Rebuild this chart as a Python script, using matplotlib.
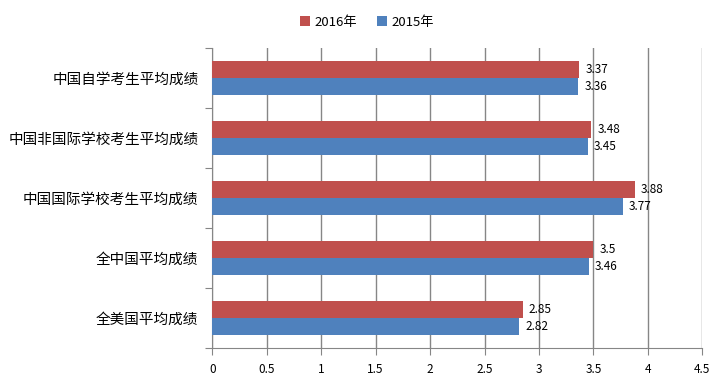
import numpy as np
import matplotlib
matplotlib.use('Agg')
from matplotlib import pyplot as plt

plt.rcParams['font.family'] = ['Noto Sans CJK SC', 'DejaVu Sans']

categories = ['中国自学考生平均成绩', '中国非国际学校考生平均成绩', '中国国际学校考生平均成绩',
              '全中国平均成绩', '全美国平均成绩']
score_2016 = [3.37, 3.48, 3.88, 3.5, 2.85]
score_2015 = [3.36, 3.45, 3.77, 3.46, 2.82]
series_names = ['2016年', '2015年']
xticks = [0, 0.5, 1, 1.5, 2, 2.5, 3, 3.5, 4, 4.5]

red = '#C0504D'
blue = '#4F81BD'
grid_c = '#868686'

fig = plt.figure(figsize=(7.26, 3.81), dpi=100)
ax = fig.add_axes([0.2924, 0.087, 0.675, 0.787])

n = len(categories)
# top category first
pos = np.arange(n)[::-1] + 0.5
h = 0.283

b1 = ax.barh(pos + h / 2, score_2016, height=h, color=red, label=series_names[0], zorder=3)
b2 = ax.barh(pos - h / 2, score_2015, height=h, color=blue, label=series_names[1], zorder=3)

for bars, vals in ((b1, score_2016), (b2, score_2015)):
    for b, v in zip(bars, vals):
        ax.text(v + 0.055, b.get_y() + b.get_height() / 2, '{:g}'.format(v),
                va='center', ha='left', fontsize=8.5, color='black')

ax.set_xlim(0, 4.5)
ax.set_ylim(0, n)
ax.set_xticks(xticks)
ax.set_xticklabels(['{:g}'.format(t) for t in xticks], fontsize=8.5)
ax.set_yticks(np.arange(n + 1))
ax.set_yticklabels([])
ax.set_yticks(pos, minor=True)
ax.set_yticklabels(categories, minor=True, fontsize=10.5)
ax.tick_params(axis='y', which='minor', length=0, pad=10)
ax.tick_params(axis='y', which='major', length=5, color=grid_c)
ax.tick_params(axis='x', length=5, color=grid_c, pad=6)

ax.grid(axis='x', color=grid_c, linewidth=1, zorder=0)
for s in ['top', 'right']:
    ax.spines[s].set_visible(False)
for s in ['left', 'bottom']:
    ax.spines[s].set_color(grid_c)

fig.legend(handles=[b1, b2], loc='upper center', bbox_to_anchor=(0.505, 0.99), ncol=2,
           frameon=False, fontsize=9.5, handlelength=0.8, handleheight=0.8,
           columnspacing=1.5, handletextpad=0.3)

fig.savefig('out.png', dpi=100)
